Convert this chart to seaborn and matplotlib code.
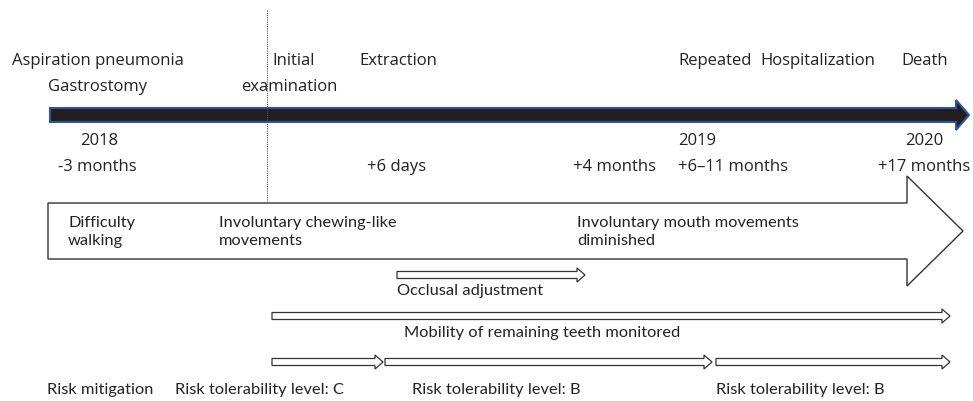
import matplotlib
matplotlib.use("Agg")
import matplotlib.pyplot as plt
from matplotlib.patches import Polygon
import seaborn as sns

# Timeline content
top_events = ["Aspiration pneumonia", "Gastrostomy", "Initial", "examination",
              "Extraction", "Repeated", "Hospitalization", "Death"]
years = ["2018", "2019", "2020"]
offsets = ["-3 months", "+6 days", "+4 months", "+6\u201311 months", "+17 months"]
symptoms = ["Difficulty\nwalking", "Involuntary chewing-like\nmovements",
            "Involuntary mouth movements\ndiminished"]
interventions = ["Occlusal adjustment", "Mobility of remaining teeth monitored"]
risk_labels = ["Risk mitigation", "Risk tolerability level: C",
               "Risk tolerability level: B", "Risk tolerability level: B"]

# Layout (pixel coordinates)
top_xy = [(12, 61), (48, 87), (272, 61), (241, 87), (359, 61), (678, 61), (760, 61), (901, 61)]
year_xy = [(80, 141), (678, 141), (905, 141)]
offset_xy = [(58, 167), (367, 167), (573, 167), (678, 167), (878, 167)]
symptom_xy = [(68, 232), (219, 232), (577, 232)]
interv_xy = [(397, 291), (404, 333)]
interv_span = [(397, 585, 275), (272, 950, 316)]
risk_span = [(272, 383), (385, 712), (716, 950)]
risk_xy = [(47, 390), (175, 390), (412, 390), (716, 390)]

sns.set_theme(style="white")
plt.rcParams['font.family'] = ['Open Sans', 'DejaVu Sans']

fig = plt.figure(figsize=(9.73, 4.01), dpi=100)
ax = fig.add_axes([0, 0, 1, 1])
ax.set_xlim(0, 973)
ax.set_ylim(401, 0)
ax.axis("off")


def block_arrow(x0, x1, yc, half_body, half_head, head_len, fc, ec, lw):
    xh = x1 - head_len
    pts = [(x0, yc - half_body), (xh, yc - half_body), (xh, yc - half_head),
           (x1, yc), (xh, yc + half_head), (xh, yc + half_body), (x0, yc + half_body)]
    ax.add_patch(Polygon(pts, closed=True, facecolor=fc, edgecolor=ec, lw=lw, joinstyle="miter"))


# dotted vertical line at initial examination
ax.plot([267, 267], [10, 202], color="#555555", lw=0.8, ls=(0, (1, 1)))

# main timeline arrow
block_arrow(50, 969, 115, 7, 15, 13, "#231f20", "#2f5597", 1.5)

for (x, y), t in zip(top_xy, top_events):
    ax.text(x, y, t, ha="left", va="center", fontsize=12, color="#222222")
for (x, y), t in zip(year_xy, years):
    ax.text(x, y, t, ha="left", va="center", fontsize=12, color="#222222")
for (x, y), t in zip(offset_xy, offsets):
    ax.text(x, y, t, ha="left", va="center", fontsize=12, color="#222222")

# symptom arrow
block_arrow(48, 963, 231, 28, 55, 56, "white", "#333333", 1.0)
for (x, y), t in zip(symptom_xy, symptoms):
    ax.text(x, y, t, ha="left", va="center", fontsize=11.8, color="#222222",
            family=['Lato', 'DejaVu Sans'], linespacing=1.3)

# intervention arrows
for (x0, x1, yc), (tx, ty), t in zip(interv_span, interv_xy, interventions):
    block_arrow(x0, x1, yc, 3.5, 7, 8, "white", "#333333", 0.9)
    ax.text(tx, ty, t, ha="left", va="center", fontsize=11.8, color="#222222",
            family=['Lato', 'DejaVu Sans'])

for x0, x1 in risk_span:
    block_arrow(x0, x1, 362, 3.5, 7, 8, "white", "#333333", 0.9)
for (x, y), t in zip(risk_xy, risk_labels):
    ax.text(x, y, t, ha="left", va="center", fontsize=11.8, color="#222222",
            family=['Lato', 'DejaVu Sans'])

fig.savefig("out.png", dpi=100)
